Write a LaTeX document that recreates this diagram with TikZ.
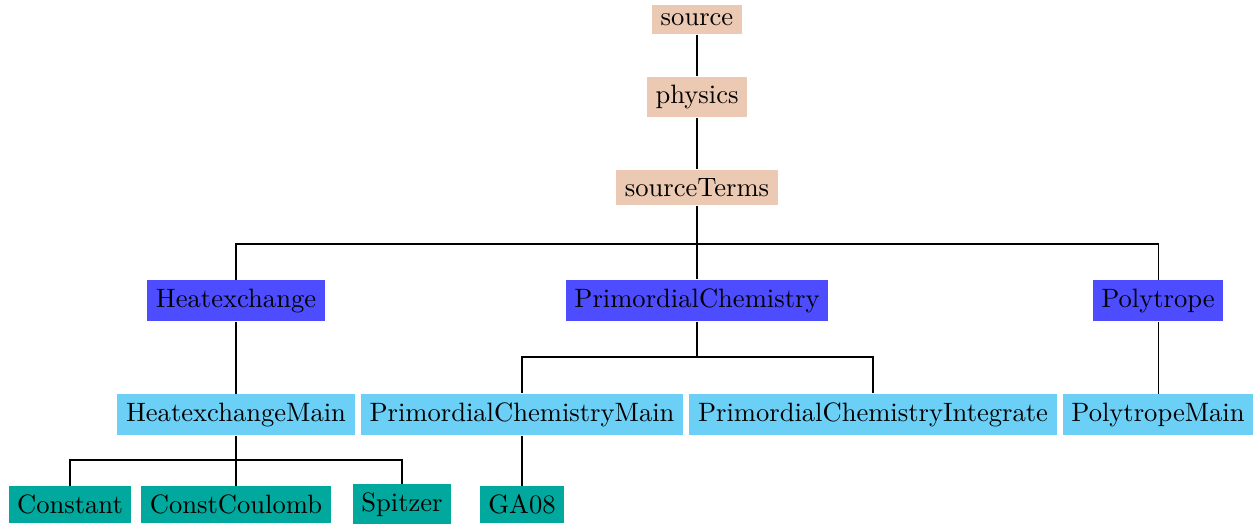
\documentclass[tikz,border=0pt]{standalone}
\begin{document}
\definecolor{rootcol}{RGB}{235,201,178}
\definecolor{modcol}{RGB}{77,77,255}
\definecolor{subcol}{RGB}{108,207,246}
\definecolor{leafcol}{RGB}{0,168,157}
\begin{tikzpicture}[x=0.38308pt,y=-0.38308pt,
  box/.style={inner sep=3.27pt,text=black,font=\fontsize{10.18pt}{12.2pt}\selectfont},
  rootbox/.style={box,fill=rootcol},
  modbox/.style={box,fill=modcol},
  subbox/.style={box,fill=subcol},
  leafbox/.style={box,fill=leafcol},
  link/.style={draw=black,line width=0.4pt}]
\useasboundingbox (0,0) rectangle (1253,523);
% top chain
\node[rootbox] (src) at (697,19.5) {source};
\node[rootbox] (phys) at (697,97) {physics};
\node[rootbox] (st) at (697,187.5) {sourceTerms};
% modules
\node[modbox] (hx) at (236,300.5) {Heatexchange};
\node[modbox] (pc) at (697,300.5) {PrimordialChemistry};
\node[modbox] (poly) at (1158,300.5) {Polytrope};
% sub-modules
\node[subbox] (hxm) at (236,414.5) {HeatexchangeMain};
\node[subbox] (pcm) at (522,414.5) {PrimordialChemistryMain};
\node[subbox] (pci) at (873,414.5) {PrimordialChemistryIntegrate};
\node[subbox] (polym) at (1158,414.5) {PolytropeMain};
% implementations
\node[leafbox] (const) at (70,504.5) {Constant};
\node[leafbox] (cc) at (236,504.5) {ConstCoulomb};
\node[leafbox] (spitzer) at (402,504.5) {Spitzer};
\node[leafbox] (ga) at (522,504.5) {GA08};
% bus junctions
\coordinate (busst) at (697,244);
\coordinate (buspc) at (697,357);
\coordinate (bushx) at (236,460);
% connectors
\draw[link] (src) -- (phys);
\draw[link] (phys) -- (st);
\draw[link] (st.south) -- (busst) -| (hx.north);
\draw[link] (busst) -- (pc.north);
\draw[link] (busst) -| (poly.north);
\draw[link] (hx) -- (hxm);
\draw[link] (pc.south) -- (buspc) -| (pcm.north);
\draw[link] (buspc) -| (pci.north);
\draw[link] (poly) -- (polym);
\draw[link] (hxm.south) -- (bushx) -| (const.north);
\draw[link] (bushx) -- (cc.north);
\draw[link] (bushx) -| (spitzer.north);
\draw[link] (pcm) -- (ga);
\end{tikzpicture}
\end{document}
